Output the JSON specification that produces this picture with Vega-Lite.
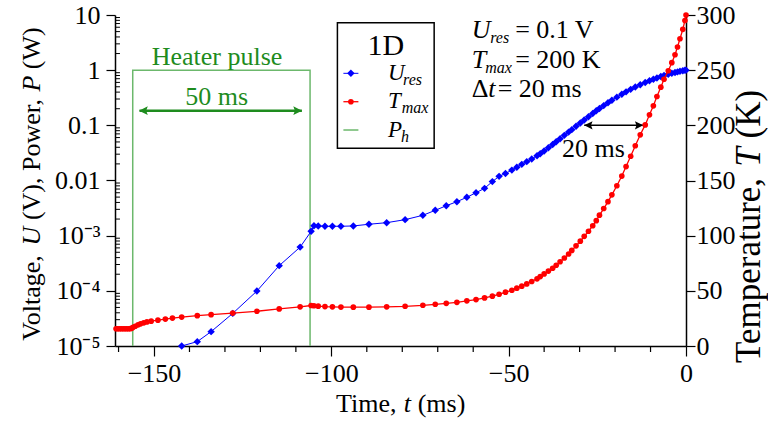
{
  "$schema": "https://vega.github.io/schema/vega-lite/v6.json",
  "width": 571,
  "height": 331,
  "autosize": {"type": "none"},
  "padding": {"left": 115, "top": 15, "right": 82, "bottom": 78},
  "background": "#ffffff",
  "config": {
    "view": {"stroke": null},
    "axis": {
      "domainColor": "#000000",
      "domainWidth": 1.5,
      "tickColor": "#000000",
      "tickWidth": 1.2,
      "labelFont": "Liberation Serif",
      "labelFontSize": 26,
      "labelColor": "#000000",
      "grid": false,
      "labelOverlap": false,
      "labelFlush": false
    },
    "text": {"font": "Liberation Serif", "color": "#000000"}
  },
  "datasets": {
    "sim": [
      {"t": -160.7, "T": 15.6},
      {"t": -160.2, "T": 15.6},
      {"t": -159.7, "T": 15.6},
      {"t": -159.2, "T": 15.6},
      {"t": -158.7, "T": 15.6},
      {"t": -158.2, "T": 15.6},
      {"t": -157.7, "T": 15.6},
      {"t": -157.2, "T": 15.6},
      {"t": -156.7, "T": 15.7},
      {"t": -156.3, "T": 16.1},
      {"t": -155.9, "T": 16.9},
      {"t": -155.3, "T": 17.9},
      {"t": -154.5, "T": 19.2},
      {"t": -153.8, "T": 20.1},
      {"t": -152.9, "T": 21.0},
      {"t": -152.0, "T": 21.8},
      {"t": -150.8, "T": 22.5},
      {"t": -148.9, "T": 23.4},
      {"t": -146.8, "T": 24.4},
      {"t": -144.8, "T": 25.3},
      {"t": -142.2, "U": 0.00001, "T": 26.2},
      {"t": -137.8, "U": 0.000012, "T": 27.5},
      {"t": -133.9, "U": 0.0000182, "T": 28.4},
      {"t": -127.8, "U": 0.000039, "T": 29.8},
      {"t": -121.0, "U": 0.000099, "T": 31.5},
      {"t": -114.7, "U": 0.000286, "T": 33.6},
      {"t": -108.8, "U": 0.00062, "T": 35.5},
      {"t": -105.7, "U": 0.0012, "T": 36.7},
      {"t": -104.9, "U": 0.00151, "T": 36.5},
      {"t": -103.7, "U": 0.0015, "T": 36.1},
      {"t": -101.8, "U": 0.00148, "T": 35.7},
      {"t": -99.7, "U": 0.00148, "T": 35.5},
      {"t": -97.3, "U": 0.00148, "T": 35.3},
      {"t": -93.8, "U": 0.0015, "T": 35.2},
      {"t": -89.4, "U": 0.00161, "T": 35.2},
      {"t": -84.4, "U": 0.00172, "T": 35.5},
      {"t": -79.2, "U": 0.00195, "T": 36.0},
      {"t": -74.2, "U": 0.00234, "T": 36.9},
      {"t": -70.7, "U": 0.00288, "T": 37.8},
      {"t": -67.6, "U": 0.00349, "T": 38.7},
      {"t": -64.6, "U": 0.00413, "T": 39.6},
      {"t": -61.8, "U": 0.00496, "T": 40.9},
      {"t": -59.2, "U": 0.00601, "T": 42.1},
      {"t": -56.8, "U": 0.00721, "T": 43.6},
      {"t": -54.6, "U": 0.00955, "T": 45.2},
      {"t": -52.7, "U": 0.01189, "T": 46.9},
      {"t": -50.9, "U": 0.01343, "T": 48.8},
      {"t": -49.1, "U": 0.01542, "T": 50.5},
      {"t": -47.7, "U": 0.01738, "T": 52.4},
      {"t": -46.3, "U": 0.01963, "T": 54.2},
      {"t": -44.9, "U": 0.02198, "T": 56.3},
      {"t": -43.5, "U": 0.02449, "T": 58.5},
      {"t": -42.0, "U": 0.02818, "T": 60.9},
      {"t": -41.1, "U": 0.03055, "T": 62.9},
      {"t": -40.0, "U": 0.0342, "T": 65.3},
      {"t": -38.8, "U": 0.03926, "T": 67.9},
      {"t": -37.6, "U": 0.04498, "T": 70.5},
      {"t": -36.6, "U": 0.05047, "T": 73.2},
      {"t": -35.5, "U": 0.05728, "T": 76.4},
      {"t": -34.3, "U": 0.06577, "T": 79.8},
      {"t": -33.1, "U": 0.07534, "T": 83.4},
      {"t": -32.2, "U": 0.08356, "T": 86.6},
      {"t": -31.0, "U": 0.09594, "T": 90.8},
      {"t": -29.8, "U": 0.1102, "T": 95.0},
      {"t": -28.7, "U": 0.125, "T": 99.4},
      {"t": -27.5, "U": 0.1432, "T": 104.0},
      {"t": -26.3, "U": 0.1641, "T": 109.0},
      {"t": -25.3, "U": 0.1832, "T": 113.6},
      {"t": -24.4, "U": 0.2014, "T": 118.6},
      {"t": -23.2, "U": 0.228, "T": 124.6},
      {"t": -22.0, "U": 0.257, "T": 130.8},
      {"t": -20.9, "U": 0.2851, "T": 137.0},
      {"t": -19.5, "U": 0.3243, "T": 145.2},
      {"t": -18.1, "U": 0.3664, "T": 154.0},
      {"t": -16.9, "U": 0.4046, "T": 162.6},
      {"t": -15.6, "U": 0.4487, "T": 172.0},
      {"t": -14.3, "U": 0.4943, "T": 181.5},
      {"t": -12.9, "U": 0.5445, "T": 191.4},
      {"t": -11.5, "U": 0.597, "T": 200.4},
      {"t": -10.3, "U": 0.6427, "T": 209.5},
      {"t": -9.2, "U": 0.6855, "T": 217.7},
      {"t": -8.2, "U": 0.7228, "T": 226.1},
      {"t": -7.1, "U": 0.7656, "T": 234.6},
      {"t": -6.2, "U": 0.798, "T": 241.8},
      {"t": -5.0, "U": 0.8433, "T": 249.5},
      {"t": -4.0, "U": 0.877, "T": 256.8},
      {"t": -3.1, "U": 0.9078, "T": 264.0},
      {"t": -2.4, "U": 0.9311, "T": 271.0},
      {"t": -1.7, "U": 0.9528, "T": 278.5},
      {"t": -0.9, "U": 0.975, "T": 287.0},
      {"t": -0.3, "U": 0.9931, "T": 295.0},
      {"t": 0.0, "U": 1.0, "T": 300.0}
    ],
    "heater": [
      {"i": 0, "t": -156, "P": 0.00001},
      {"i": 1, "t": -156, "P": 1},
      {"i": 2, "t": -106, "P": 1},
      {"i": 3, "t": -106, "P": 0.00001}
    ],
    "minor_y": [
      {"v": 0.00002}, {"v": 0.00003}, {"v": 0.00004}, {"v": 0.00005}, {"v": 0.00006}, {"v": 0.00007}, {"v": 0.00008}, {"v": 0.00009},
      {"v": 0.0002}, {"v": 0.0003}, {"v": 0.0004}, {"v": 0.0005}, {"v": 0.0006}, {"v": 0.0007}, {"v": 0.0008}, {"v": 0.0009},
      {"v": 0.002}, {"v": 0.003}, {"v": 0.004}, {"v": 0.005}, {"v": 0.006}, {"v": 0.007}, {"v": 0.008}, {"v": 0.009},
      {"v": 0.02}, {"v": 0.03}, {"v": 0.04}, {"v": 0.05}, {"v": 0.06}, {"v": 0.07}, {"v": 0.08}, {"v": 0.09},
      {"v": 0.2}, {"v": 0.3}, {"v": 0.4}, {"v": 0.5}, {"v": 0.6}, {"v": 0.7}, {"v": 0.8}, {"v": 0.9},
      {"v": 2}, {"v": 3}, {"v": 4}, {"v": 5}, {"v": 6}, {"v": 7}, {"v": 8}, {"v": 9}
    ],
    "minor_x": [
      {"t": -160}, {"t": -140}, {"t": -130}, {"t": -120}, {"t": -110}, {"t": -90}, {"t": -80},
      {"t": -70}, {"t": -60}, {"t": -40}, {"t": -30}, {"t": -20}, {"t": -10}
    ],
    "pulse_arrow": [{"t0": -154.1, "t1": -108.3, "v": 0.184, "tl": -152.68, "tr": -109.8}],
    "delay_arrow": [{"t0": -28.7, "t1": -12.06, "v": 0.1, "tl": -27.23, "tr": -13.52}],
    "key_box": [{"t0": -98.29, "t1": -71.01, "v0": 0.03833, "v1": 7.246}],
    "key": [
      {"series": "U", "t0": -96.6, "t1": -92.37, "tm": -94.49, "v": 0.8768},
      {"series": "T", "t0": -96.6, "t1": -92.37, "tm": -94.49, "v": 0.268},
      {"series": "P", "t0": -96.6, "t1": -92.37, "tm": -94.49, "v": 0.08227}
    ],
    "key_title": [{"t": -84.64, "v": 1.882, "s": "1D"}],
    "key_label": [
      {"t": -84.0, "v": 0.663, "s": "U"},
      {"t": -84.0, "v": 0.2035, "s": "T"},
      {"t": -84.0, "v": 0.06065, "s": "P"}
    ],
    "key_sub": [
      {"t": -79.76, "v": 0.5381, "s": "res"},
      {"t": -80.18, "v": 0.1651, "s": "max"},
      {"t": -80.33, "v": 0.04923, "s": "h"}
    ],
    "ann_roman": [
      {"t": -48.17, "v": 3.778, "s": "= 0.1 V"},
      {"t": -48.17, "v": 1.08, "s": "= 200 K"},
      {"t": -60.38, "v": 0.3302, "s": "Δ"},
      {"t": -53.1, "v": 0.3302, "s": "= 20 ms"},
      {"t": -98.69, "v": 6.364e-7, "s": "Time,"},
      {"t": -75.67, "v": 6.364e-7, "s": "(ms)"}
    ],
    "ann_italic": [
      {"t": -60.38, "v": 3.778, "s": "U"},
      {"t": -60.38, "v": 1.08, "s": "T"},
      {"t": -55.78, "v": 0.3302, "s": "t"},
      {"t": -79.56, "v": 6.364e-7, "s": "t"}
    ],
    "ann_sub": [
      {"t": -55.22, "v": 3.145, "s": "res"},
      {"t": -56.63, "v": 0.899, "s": "max"}
    ],
    "ann_center": [{"t": -26.08, "v": 0.02698, "s": "20 ms"}],
    "ann_green": [
      {"t": -132.23, "v": 1.24, "s": "Heater pulse"},
      {"t": -132.31, "v": 0.2335, "s": "50 ms"}
    ],
    "title_left": [
      {"t": -182.16, "v": 0.000012475, "s": "Voltage,"},
      {"t": -182.16, "v": 0.0019143, "s": "(V), Power,"},
      {"t": -182.16, "v": 1.0404, "s": "(W)"}
    ],
    "title_left_italic": [
      {"t": -182.16, "v": 0.0006659, "s": "U"},
      {"t": -182.16, "v": 0.4087, "s": "P"}
    ],
    "title_right": [
      {"t": 20.95, "v": 0.000004917, "s": "Temperature,"},
      {"t": 20.95, "v": 0.05769, "s": "(K)"}
    ],
    "title_right_italic": [
      {"t": 20.95, "v": 0.017783, "s": "T"}
    ]
  },
  "layer": [
    {
      "data": {"name": "heater"},
      "mark": {"type": "line", "color": "#6cb86c", "strokeWidth": 1.5},
      "encoding": {
        "x": {"field": "t", "type": "quantitative", "title": null},
        "y": {"field": "P", "type": "quantitative", "axis": null, "title": null, "scale": {"type": "log", "domain": [0.00001, 10], "nice": false}},
        "order": {"field": "i", "type": "quantitative"}
      }
    },
    {
      "data": {"name": "minor_y"},
      "mark": {"type": "rule", "color": "#000000", "strokeWidth": 1},
      "encoding": {
        "x": {"datum": -161, "type": "quantitative", "title": null},
        "x2": {"datum": -159.6},
        "y": {"field": "v", "type": "quantitative", "axis": null, "title": null, "scale": {"type": "log", "domain": [0.00001, 10], "nice": false}}
      }
    },
    {
      "data": {"name": "minor_x"},
      "mark": {"type": "rule", "color": "#000000", "strokeWidth": 1.2},
      "encoding": {
        "x": {"field": "t", "type": "quantitative", "title": null},
        "y": {"datum": 0.00001, "type": "quantitative", "axis": null, "title": null, "scale": {"type": "log", "domain": [0.00001, 10], "nice": false}},
        "y2": {"datum": 0.000007785}
      }
    },
    {
      "data": {"name": "key_box"},
      "mark": {"type": "rect", "fill": "#ffffff", "stroke": "#000000", "strokeWidth": 1.5},
      "encoding": {
        "x": {"field": "t0", "type": "quantitative", "title": null},
        "x2": {"field": "t1"},
        "y": {"field": "v0", "type": "quantitative", "axis": null, "title": null, "scale": {"type": "log", "domain": [0.00001, 10], "nice": false}},
        "y2": {"field": "v1"}
      }
    },
    {
      "data": {"name": "key"},
      "transform": [{"filter": "datum.series == 'U'"}],
      "layer": [
        {"mark": {"type": "rule", "color": "#0000ff", "strokeWidth": 1},
         "encoding": {"x": {"field": "t0", "type": "quantitative", "title": null}, "x2": {"field": "t1"}, "y": {"field": "v", "type": "quantitative", "axis": null, "title": null, "scale": {"type": "log", "domain": [0.00001, 10], "nice": false}}}},
        {"mark": {"type": "point", "shape": "diamond", "filled": true, "size": 55, "color": "#0000ff", "opacity": 1},
         "encoding": {"x": {"field": "tm", "type": "quantitative", "title": null}, "y": {"field": "v", "type": "quantitative", "axis": null, "title": null, "scale": {"type": "log", "domain": [0.00001, 10], "nice": false}}}}
      ]
    },
    {
      "data": {"name": "key"},
      "transform": [{"filter": "datum.series == 'T'"}],
      "layer": [
        {"mark": {"type": "rule", "color": "#ff0000", "strokeWidth": 1.3},
         "encoding": {"x": {"field": "t0", "type": "quantitative", "title": null}, "x2": {"field": "t1"}, "y": {"field": "v", "type": "quantitative", "axis": null, "title": null, "scale": {"type": "log", "domain": [0.00001, 10], "nice": false}}}},
        {"mark": {"type": "point", "shape": "circle", "filled": true, "size": 32, "color": "#ff0000", "opacity": 1},
         "encoding": {"x": {"field": "tm", "type": "quantitative", "title": null}, "y": {"field": "v", "type": "quantitative", "axis": null, "title": null, "scale": {"type": "log", "domain": [0.00001, 10], "nice": false}}}}
      ]
    },
    {
      "data": {"name": "key"},
      "transform": [{"filter": "datum.series == 'P'"}],
      "mark": {"type": "rule", "color": "#6cb86c", "strokeWidth": 1.5},
      "encoding": {"x": {"field": "t0", "type": "quantitative", "title": null}, "x2": {"field": "t1"}, "y": {"field": "v", "type": "quantitative", "axis": null, "title": null, "scale": {"type": "log", "domain": [0.00001, 10], "nice": false}}}
    },
    {
      "data": {"name": "pulse_arrow"},
      "layer": [
        {"mark": {"type": "rule", "color": "#1e8c1e", "strokeWidth": 2.5},
         "encoding": {"x": {"field": "t0", "type": "quantitative", "title": null}, "x2": {"field": "t1"}, "y": {"field": "v", "type": "quantitative", "axis": null, "title": null, "scale": {"type": "log", "domain": [0.00001, 10], "nice": false}}}},
        {"mark": {"type": "point", "shape": "M-1,0L0.6,-0.8L0.3,0L0.6,0.8Z", "filled": true, "size": 120, "color": "#1e8c1e", "opacity": 1},
         "encoding": {"x": {"field": "tl", "type": "quantitative", "title": null}, "y": {"field": "v", "type": "quantitative", "axis": null, "title": null, "scale": {"type": "log", "domain": [0.00001, 10], "nice": false}}}},
        {"mark": {"type": "point", "shape": "M1,0L-0.6,-0.8L-0.3,0L-0.6,0.8Z", "filled": true, "size": 120, "color": "#1e8c1e", "opacity": 1},
         "encoding": {"x": {"field": "tr", "type": "quantitative", "title": null}, "y": {"field": "v", "type": "quantitative", "axis": null, "title": null, "scale": {"type": "log", "domain": [0.00001, 10], "nice": false}}}}
      ]
    },
    {
      "data": {"name": "delay_arrow"},
      "layer": [
        {"mark": {"type": "rule", "color": "#000000", "strokeWidth": 1.5},
         "encoding": {"x": {"field": "t0", "type": "quantitative", "title": null}, "x2": {"field": "t1"}, "y": {"field": "v", "type": "quantitative", "axis": null, "title": null, "scale": {"type": "log", "domain": [0.00001, 10], "nice": false}}}},
        {"mark": {"type": "point", "shape": "M-1,0L0.6,-0.8L0.3,0L0.6,0.8Z", "filled": true, "size": 110, "color": "#000000", "opacity": 1},
         "encoding": {"x": {"field": "tl", "type": "quantitative", "title": null}, "y": {"field": "v", "type": "quantitative", "axis": null, "title": null, "scale": {"type": "log", "domain": [0.00001, 10], "nice": false}}}},
        {"mark": {"type": "point", "shape": "M1,0L-0.6,-0.8L-0.3,0L-0.6,0.8Z", "filled": true, "size": 110, "color": "#000000", "opacity": 1},
         "encoding": {"x": {"field": "tr", "type": "quantitative", "title": null}, "y": {"field": "v", "type": "quantitative", "axis": null, "title": null, "scale": {"type": "log", "domain": [0.00001, 10], "nice": false}}}}
      ]
    },
    {
      "data": {"name": "ann_roman"},
      "mark": {"type": "text", "align": "left", "baseline": "alphabetic", "fontSize": 26, "font": "Liberation Serif", "color": "#000000"},
      "encoding": {"x": {"field": "t", "type": "quantitative", "title": null}, "y": {"field": "v", "type": "quantitative", "axis": null, "title": null, "scale": {"type": "log", "domain": [0.00001, 10], "nice": false}}, "text": {"field": "s"}}
    },
    {
      "data": {"name": "ann_italic"},
      "mark": {"type": "text", "align": "left", "baseline": "alphabetic", "fontSize": 26, "fontStyle": "italic", "font": "Liberation Serif", "color": "#000000"},
      "encoding": {"x": {"field": "t", "type": "quantitative", "title": null}, "y": {"field": "v", "type": "quantitative", "axis": null, "title": null, "scale": {"type": "log", "domain": [0.00001, 10], "nice": false}}, "text": {"field": "s"}}
    },
    {
      "data": {"name": "ann_sub"},
      "mark": {"type": "text", "align": "left", "baseline": "alphabetic", "fontSize": 16, "fontStyle": "italic", "font": "Liberation Serif", "color": "#000000"},
      "encoding": {"x": {"field": "t", "type": "quantitative", "title": null}, "y": {"field": "v", "type": "quantitative", "axis": null, "title": null, "scale": {"type": "log", "domain": [0.00001, 10], "nice": false}}, "text": {"field": "s"}}
    },
    {
      "data": {"name": "ann_center"},
      "mark": {"type": "text", "align": "center", "baseline": "alphabetic", "fontSize": 26, "font": "Liberation Serif", "color": "#000000"},
      "encoding": {"x": {"field": "t", "type": "quantitative", "title": null}, "y": {"field": "v", "type": "quantitative", "axis": null, "title": null, "scale": {"type": "log", "domain": [0.00001, 10], "nice": false}}, "text": {"field": "s"}}
    },
    {
      "data": {"name": "ann_green"},
      "mark": {"type": "text", "align": "center", "baseline": "alphabetic", "fontSize": 26, "font": "Liberation Serif", "color": "#1e8c1e"},
      "encoding": {"x": {"field": "t", "type": "quantitative", "title": null}, "y": {"field": "v", "type": "quantitative", "axis": null, "title": null, "scale": {"type": "log", "domain": [0.00001, 10], "nice": false}}, "text": {"field": "s"}}
    },
    {
      "data": {"name": "key_title"},
      "mark": {"type": "text", "align": "center", "baseline": "alphabetic", "fontSize": 30, "font": "Liberation Serif", "color": "#000000"},
      "encoding": {"x": {"field": "t", "type": "quantitative", "title": null}, "y": {"field": "v", "type": "quantitative", "axis": null, "title": null, "scale": {"type": "log", "domain": [0.00001, 10], "nice": false}}, "text": {"field": "s"}}
    },
    {
      "data": {"name": "key_label"},
      "mark": {"type": "text", "align": "left", "baseline": "alphabetic", "fontSize": 23, "fontStyle": "italic", "font": "Liberation Serif", "color": "#000000"},
      "encoding": {"x": {"field": "t", "type": "quantitative", "title": null}, "y": {"field": "v", "type": "quantitative", "axis": null, "title": null, "scale": {"type": "log", "domain": [0.00001, 10], "nice": false}}, "text": {"field": "s"}}
    },
    {
      "data": {"name": "key_sub"},
      "mark": {"type": "text", "align": "left", "baseline": "alphabetic", "fontSize": 16, "fontStyle": "italic", "font": "Liberation Serif", "color": "#000000"},
      "encoding": {"x": {"field": "t", "type": "quantitative", "title": null}, "y": {"field": "v", "type": "quantitative", "axis": null, "title": null, "scale": {"type": "log", "domain": [0.00001, 10], "nice": false}}, "text": {"field": "s"}}
    },
    {
      "data": {"name": "title_left"},
      "mark": {"type": "text", "align": "left", "baseline": "alphabetic", "angle": 270, "fontSize": 26, "font": "Liberation Serif", "color": "#000000"},
      "encoding": {"x": {"field": "t", "type": "quantitative", "title": null}, "y": {"field": "v", "type": "quantitative", "axis": null, "title": null, "scale": {"type": "log", "domain": [0.00001, 10], "nice": false}}, "text": {"field": "s"}}
    },
    {
      "data": {"name": "title_left_italic"},
      "mark": {"type": "text", "align": "left", "baseline": "alphabetic", "angle": 270, "fontSize": 26, "fontStyle": "italic", "font": "Liberation Serif", "color": "#000000"},
      "encoding": {"x": {"field": "t", "type": "quantitative", "title": null}, "y": {"field": "v", "type": "quantitative", "axis": null, "title": null, "scale": {"type": "log", "domain": [0.00001, 10], "nice": false}}, "text": {"field": "s"}}
    },
    {
      "data": {"name": "title_right"},
      "mark": {"type": "text", "align": "left", "baseline": "alphabetic", "angle": 270, "fontSize": 35, "font": "Liberation Serif", "color": "#000000"},
      "encoding": {"x": {"field": "t", "type": "quantitative", "title": null}, "y": {"field": "v", "type": "quantitative", "axis": null, "title": null, "scale": {"type": "log", "domain": [0.00001, 10], "nice": false}}, "text": {"field": "s"}}
    },
    {
      "data": {"name": "title_right_italic"},
      "mark": {"type": "text", "align": "left", "baseline": "alphabetic", "angle": 270, "fontSize": 35, "fontStyle": "italic", "font": "Liberation Serif", "color": "#000000"},
      "encoding": {"x": {"field": "t", "type": "quantitative", "title": null}, "y": {"field": "v", "type": "quantitative", "axis": null, "title": null, "scale": {"type": "log", "domain": [0.00001, 10], "nice": false}}, "text": {"field": "s"}}
    },
    {
      "data": {"name": "sim"},
      "mark": {"type": "line", "color": "#0000ff", "strokeWidth": 1, "point": {"shape": "diamond", "filled": true, "size": 55, "color": "#0000ff", "opacity": 1}},
      "encoding": {
        "x": {"field": "t", "type": "quantitative", "title": null},
        "y": {
          "field": "U", "type": "quantitative", "title": null,
          "scale": {"type": "log", "domain": [0.00001, 10], "nice": false},
          "axis": {
            "orient": "left",
            "values": [0.00001, 0.0001, 0.001, 0.01, 0.1, 1, 10],
            "labelExpr": "datum.value > 0.005 ? format(datum.value, '~g') : round(log(datum.value)/LN10) == -3 ? '10⁻³' : round(log(datum.value)/LN10) == -4 ? '10⁻⁴' : '10⁻⁵'",
            "tickSize": 9,
            "labelPadding": 6
          }
        }
      }
    },
    {
      "data": {"name": "sim"},
      "mark": {"type": "line", "color": "#ff0000", "strokeWidth": 1.3, "point": {"shape": "circle", "filled": true, "size": 32, "color": "#ff0000", "opacity": 1}},
      "encoding": {
        "x": {
          "field": "t", "type": "quantitative", "title": null,
          "scale": {"domain": [-161, 0], "nice": false, "zero": false},
          "axis": {"orient": "bottom", "values": [-150, -100, -50, 0], "tickSize": 10, "labelPadding": 4}
        },
        "y": {
          "field": "T", "type": "quantitative", "title": null,
          "scale": {"domain": [0, 300], "nice": false, "zero": false},
          "axis": {"orient": "right", "values": [0, 50, 100, 150, 200, 250, 300], "tickSize": 9, "labelPadding": 1}
        }
      }
    }
  ],
  "resolve": {"scale": {"y": "independent"}}
}
